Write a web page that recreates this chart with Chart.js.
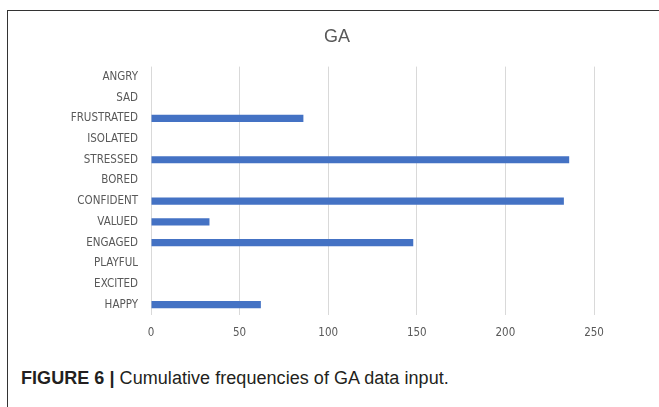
<!DOCTYPE html>
<html>
<head>
<meta charset="utf-8">
<script src="https://cdn.jsdelivr.net/npm/chart.js@4"></script>
<style>
  html, body { margin: 0; padding: 0; background: #fff; }
  body { width: 659px; height: 407px; overflow: hidden; position: relative; }
  #frame {
    position: absolute; left: 7px; top: 10px; width: 700px; height: 440px;
    border: 1px solid #333; box-sizing: border-box;
  }
  #wrap { position: absolute; left: 12px; top: 11px; width: 650px; height: 340px; }
  #caption {
    position: absolute; left: 21px; top: 368px;
    font-family: "Liberation Sans", Arial, sans-serif; font-size: 18px;
    color: #231f20; white-space: nowrap; letter-spacing: 0.05px;
  }
  #caption b { font-weight: bold; }
</style>
</head>
<body>
<div id="frame"></div>
<div id="wrap"><canvas id="gaChart" width="650" height="340"></canvas></div>
<div id="caption"><b>FIGURE 6 |</b> Cumulative frequencies of GA data input.</div>

<script>
// categories, top to bottom as drawn
const emotions = ['ANGRY', 'SAD', 'FRUSTRATED', 'ISOLATED', 'STRESSED', 'BORED',
                  'CONFIDENT', 'VALUED', 'ENGAGED', 'PLAYFUL', 'EXCITED', 'HAPPY'];
// cumulative frequencies
const frequencies = [0, 0, 86, 0, 236, 0, 233, 33, 148, 0, 0, 62];
const xTicks = [0, 50, 100, 150, 200, 250];

const labelFont = { family: "'DejaVu Sans Condensed', 'Liberation Sans', Arial, sans-serif", size: 11.5 };

const ctx = document.getElementById('gaChart').getContext('2d');
const gaChart = new Chart(ctx, {
    type: 'bar',
    data: {
        labels: emotions,
        datasets: [{
            label: 'GA',
            data: frequencies,
            backgroundColor: '#4472c4',
            borderWidth: 0,
            barPercentage: 0.35,
            categoryPercentage: 1
        }]
    },
    options: {
        indexAxis: 'y',
        responsive: false,
        animation: false,
        layout: { padding: 0 },
        plugins: {
            legend: { display: false },
            tooltip: { enabled: false },
            title: {
                display: true,
                text: 'GA',
                color: '#595959',
                font: { family: "'Liberation Sans', Arial, sans-serif", size: 18, weight: 'normal' },
                padding: { top: 15, bottom: 19 }
            }
        },
        scales: {
            x: {
                min: 0,
                max: 250,
                afterBuildTicks: s => { s.ticks = xTicks.map(v => ({ value: v })); },
                afterFit: s => { s.height = 36; },
                grid: { color: '#d9d9d9', drawTicks: false },
                border: { display: false },
                ticks: { color: '#595959', font: labelFont, padding: 11 }
            },
            y: {
                afterFit: s => { s.width = 139; },
                grid: { display: false },
                border: { display: false },
                ticks: { color: '#595959', font: labelFont, padding: 5, autoSkip: false }
            },
            // empty space on the right, as in the original plot area
            spacer: {
                type: 'linear',
                axis: 'y',
                position: 'right',
                min: 0,
                max: 1,
                afterFit: s => { s.width = 68; },
                grid: { display: false },
                border: { display: false },
                ticks: { display: false }
            }
        }
    }
});
</script>
</body>
</html>
